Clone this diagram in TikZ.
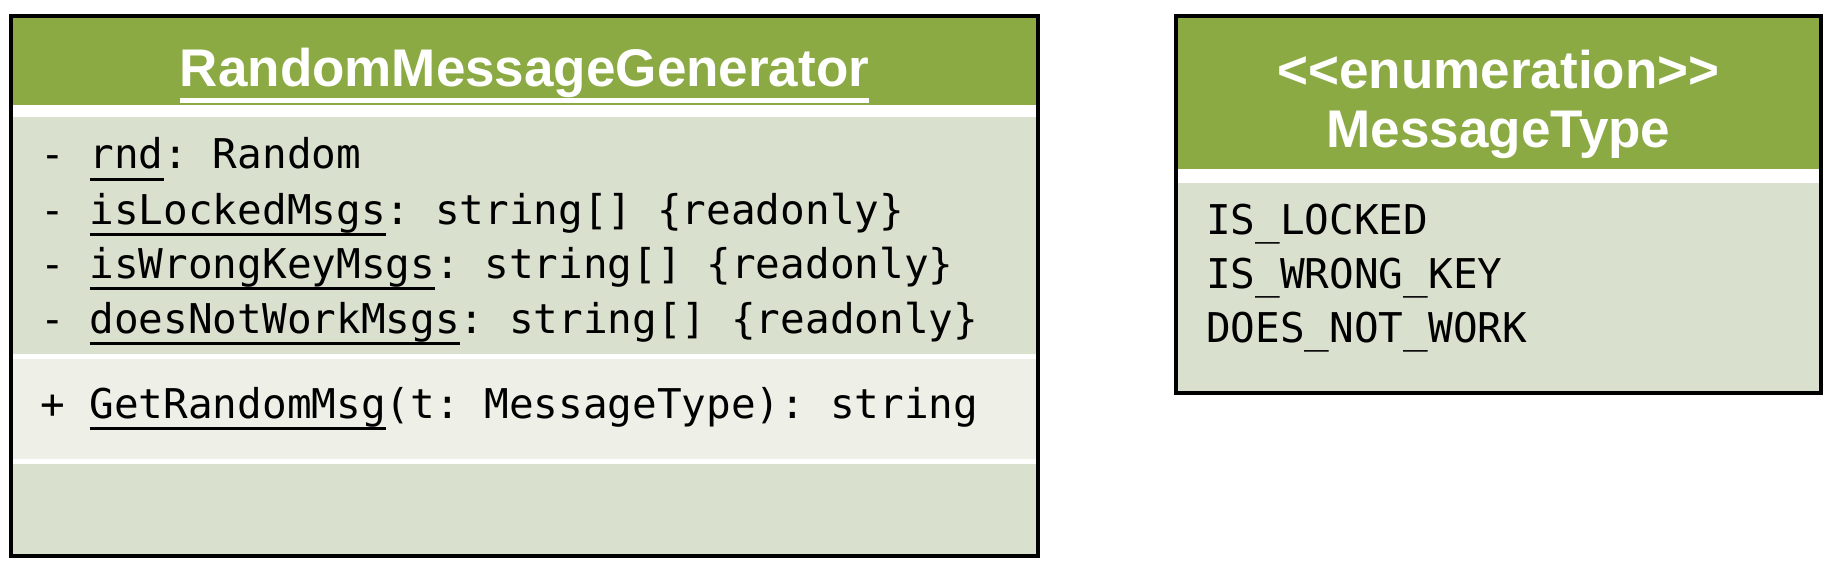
\documentclass[tikz,border=0pt]{standalone}
\usepackage{fontspec}
\setmainfont{Liberation Sans}
\setmonofont{DejaVu Sans Mono}
\usetikzlibrary{positioning}
\definecolor{hdrgreen}{HTML}{8BAA43}
\definecolor{bodygreen}{HTML}{DAE0CE}
\definecolor{opgreen}{HTML}{EEF0E8}
\newcommand{\undl}[1]{\setbox0\hbox{#1}\rlap{\rule[-0.3em]{\wd0}{0.085em}}\box0}

\begin{document}
\begin{tikzpicture}[x=1pt,y=-1pt,
                every node/.style = {inner sep=0pt, anchor=base west},
                hdrtext/.style = {anchor=base, text=white, font=\fontsize{53}{60}\selectfont\bfseries},
                member/.style = {font=\fontsize{41}{50}\selectfont\ttfamily},
                classbox/.style = {draw=black, line width=4.5pt}]
                \useasboundingbox (0,0) rectangle (1832,567);
                % RandomMessageGenerator
                \fill[hdrgreen] (11,16) rectangle (1038,105);
                \fill[bodygreen] (11,117) rectangle (1038,354);
                \fill[opgreen] (11,359) rectangle (1038,459);
                \fill[bodygreen] (11,464) rectangle (1038,556);
                \draw[classbox] (11,16) rectangle (1038,556);
                \node[hdrtext] (gen) at (524.5,87) {\undl{RandomMessageGenerator}};
                \foreach \nm/\yy/\txt in {rnd/169/{- \undl{rnd}: Random},
                        locked/224/{- \undl{isLockedMsgs}: string[] \{readonly\}},
                        wrongkey/278/{- \undl{isWrongKeyMsgs}: string[] \{readonly\}},
                        notwork/333/{- \undl{doesNotWorkMsgs}: string[] \{readonly\}}}
                    \node[member] (\nm) at (40,\yy) {\txt};
                \node[member] (getmsg) at (40,418) {+ \undl{GetRandomMsg}(t: MessageType): string};
                % MessageType
                \fill[hdrgreen] (1176,16) rectangle (1821,169);
                \fill[bodygreen] (1176,183) rectangle (1821,393);
                \draw[classbox] (1176,16) rectangle (1821,393);
                \node[hdrtext] (stereo) at (1498.5,89) {<\kern0pt<enumeration>\kern0pt>};
                \node[hdrtext] (msgtype) at (1498.5,148) {MessageType};
                \foreach \nm/\yy/\txt in {islocked/234/IS\_LOCKED,
                        iswrongkey/288/IS\_WRONG\_KEY,
                        doesnotwork/342/DOES\_NOT\_WORK}
                    \node[member] (\nm) at (1206,\yy) {\txt};
            \end{tikzpicture}
\end{document}
